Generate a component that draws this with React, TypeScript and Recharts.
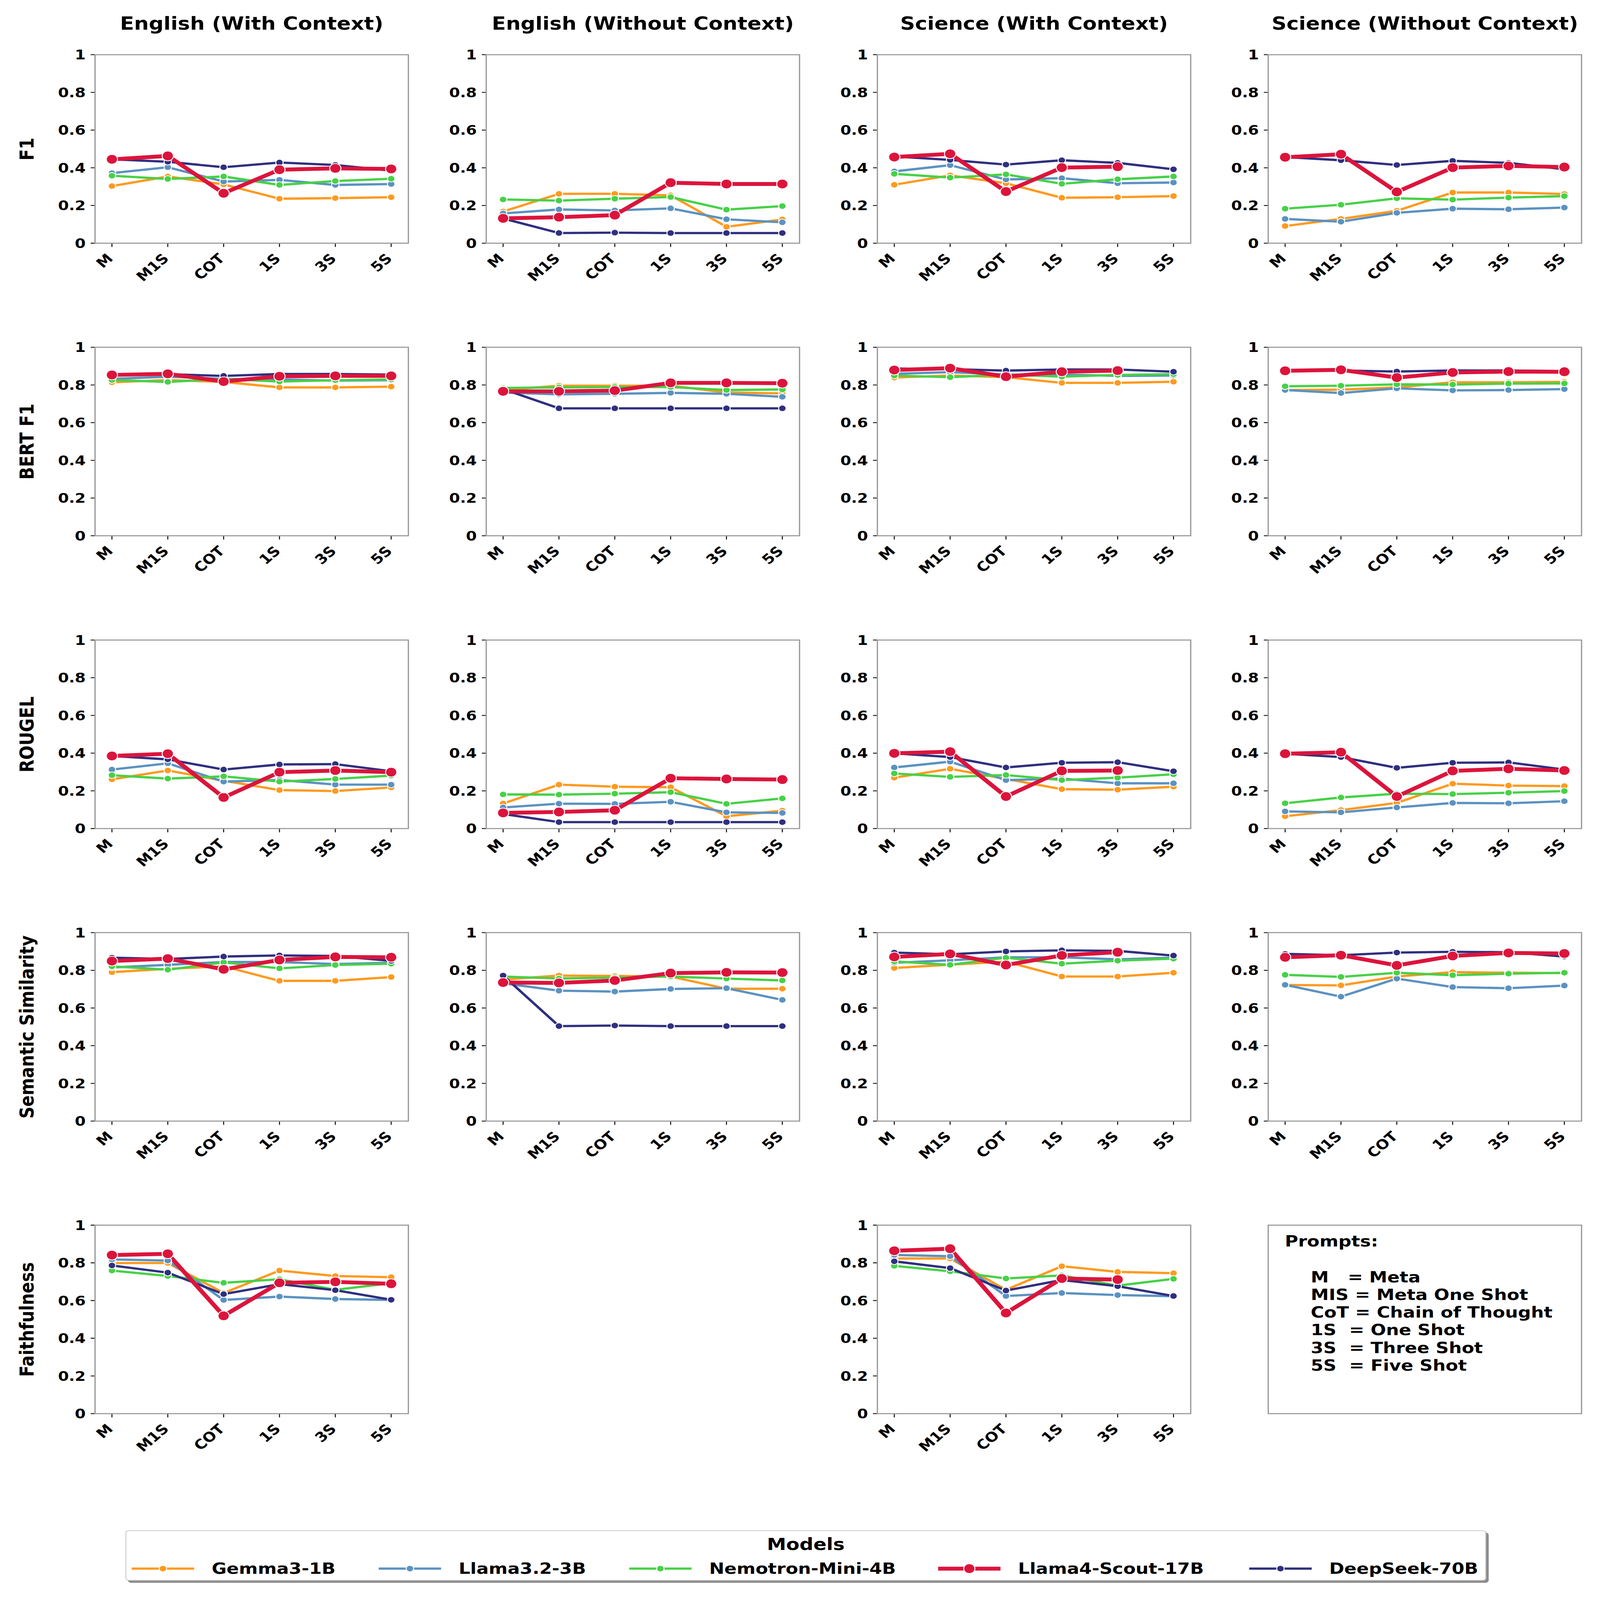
import React from 'react';
import { LineChart, Line, XAxis, YAxis } from 'recharts';

const prompts = ['M', 'M1S', 'COT', '1S', '3S', '5S'];
const models = ['Gemma3-1B', 'Llama3.2-3B', 'Nemotron-Mini-4B', 'Llama4-Scout-17B', 'DeepSeek-70B'];
const datasets = ['English (With Context)', 'English (Without Context)', 'Science (With Context)', 'Science (Without Context)'];
const metrics = ['F1', 'BERT F1', 'ROUGEL', 'Semantic Similarity', 'Faithfulness'];
const yTicks = [0, 0.2, 0.4, 0.6, 0.8, 1];
const promptNotes = ['M   = Meta', 'MIS = Meta One Shot', 'CoT = Chain of Thought', '1S  = One Shot', '3S  = Three Shot', '5S  = Five Shot'];

// each panel: one row per model, in the order of `models`
const f1EngCtx = [
  [0.303, 0.354, 0.312, 0.236, 0.239, 0.244],
  [0.372, 0.403, 0.327, 0.336, 0.309, 0.314],
  [0.358, 0.341, 0.354, 0.309, 0.330, 0.342],
  [0.445, 0.463, 0.265, 0.390, 0.397, 0.394],
  [0.445, 0.432, 0.403, 0.428, 0.415, 0.385],
];
const f1EngNoCtx = [
  [0.168, 0.262, 0.262, 0.254, 0.087, 0.126],
  [0.158, 0.179, 0.174, 0.185, 0.127, 0.111],
  [0.232, 0.226, 0.236, 0.245, 0.178, 0.197],
  [0.132, 0.138, 0.149, 0.321, 0.314, 0.314],
  [0.131, 0.054, 0.056, 0.054, 0.054, 0.054],
];
const f1SciCtx = [
  [0.310, 0.360, 0.318, 0.241, 0.244, 0.250],
  [0.381, 0.414, 0.338, 0.345, 0.318, 0.322],
  [0.368, 0.348, 0.365, 0.315, 0.339, 0.354],
  [0.457, 0.474, 0.274, 0.401, 0.406, null],
  [0.460, 0.442, 0.417, 0.440, 0.426, 0.392],
];
const f1SciNoCtx = [
  [0.091, 0.129, 0.172, 0.269, 0.269, 0.261],
  [0.129, 0.114, 0.161, 0.183, 0.180, 0.189],
  [0.183, 0.204, 0.238, 0.231, 0.242, 0.250],
  [0.456, 0.472, 0.272, 0.401, 0.410, 0.404],
  [0.457, 0.440, 0.415, 0.437, 0.426, 0.392],
];
const bertEngCtx = [
  [0.814, 0.826, 0.816, 0.787, 0.787, 0.791],
  [0.832, 0.844, 0.832, 0.829, 0.823, 0.825],
  [0.826, 0.816, 0.832, 0.818, 0.825, 0.829],
  [0.853, 0.859, 0.818, 0.846, 0.848, 0.848],
  [0.855, 0.857, 0.848, 0.858, 0.858, 0.855],
];
const bertEngNoCtx = [
  [0.773, 0.796, 0.796, 0.796, 0.760, 0.755],
  [0.760, 0.750, 0.753, 0.758, 0.753, 0.737],
  [0.784, 0.787, 0.789, 0.789, 0.773, 0.776],
  [0.766, 0.766, 0.770, 0.811, 0.811, 0.809],
  [0.778, 0.676, 0.676, 0.676, 0.676, 0.676],
];
const bertSciCtx = [
  [0.839, 0.850, 0.841, 0.811, 0.811, 0.817],
  [0.859, 0.868, 0.855, 0.855, 0.848, 0.850],
  [0.850, 0.841, 0.855, 0.844, 0.853, 0.857],
  [0.879, 0.889, 0.844, 0.870, 0.876, null],
  [0.887, 0.884, 0.876, 0.882, 0.882, 0.870],
];
const bertSciNoCtx = [
  [0.773, 0.775, 0.787, 0.814, 0.814, 0.816],
  [0.773, 0.757, 0.782, 0.771, 0.773, 0.778],
  [0.793, 0.796, 0.803, 0.802, 0.807, 0.808],
  [0.875, 0.880, 0.839, 0.866, 0.871, 0.870],
  [0.875, 0.877, 0.871, 0.877, 0.877, 0.873],
];
const rougeEngCtx = [
  [0.261, 0.308, 0.254, 0.204, 0.199, 0.218],
  [0.313, 0.346, 0.249, 0.258, 0.233, 0.233],
  [0.283, 0.265, 0.277, 0.249, 0.263, 0.281],
  [0.385, 0.397, 0.165, 0.299, 0.308, 0.299],
  [0.385, 0.367, 0.313, 0.340, 0.342, 0.304],
];
const rougeEngNoCtx = [
  [0.133, 0.233, 0.222, 0.219, 0.065, 0.095],
  [0.112, 0.132, 0.131, 0.142, 0.086, 0.083],
  [0.181, 0.180, 0.185, 0.193, 0.131, 0.160],
  [0.083, 0.088, 0.097, 0.267, 0.263, 0.260],
  [0.077, 0.034, 0.034, 0.034, 0.034, 0.034],
];
const rougeSciCtx = [
  [0.270, 0.317, 0.263, 0.209, 0.206, 0.222],
  [0.324, 0.355, 0.257, 0.265, 0.240, 0.240],
  [0.292, 0.274, 0.284, 0.257, 0.270, 0.288],
  [0.399, 0.408, 0.170, 0.306, 0.308, null],
  [0.399, 0.379, 0.324, 0.349, 0.352, 0.304],
];
const rougeSciNoCtx = [
  [0.065, 0.098, 0.136, 0.238, 0.228, 0.225],
  [0.091, 0.086, 0.112, 0.136, 0.134, 0.145],
  [0.134, 0.165, 0.185, 0.183, 0.190, 0.199],
  [0.397, 0.405, 0.170, 0.306, 0.317, 0.308],
  [0.397, 0.379, 0.322, 0.349, 0.351, 0.313],
];
const semEngCtx = [
  [0.790, 0.808, 0.821, 0.744, 0.744, 0.764],
  [0.815, 0.829, 0.844, 0.844, 0.833, 0.840],
  [0.821, 0.803, 0.842, 0.810, 0.828, 0.835],
  [0.849, 0.862, 0.805, 0.855, 0.871, 0.869],
  [0.867, 0.860, 0.873, 0.879, 0.876, 0.850],
];
const semEngNoCtx = [
  [0.751, 0.772, 0.770, 0.767, 0.702, 0.702],
  [0.731, 0.692, 0.687, 0.701, 0.705, 0.643],
  [0.767, 0.756, 0.762, 0.767, 0.756, 0.746],
  [0.735, 0.733, 0.746, 0.785, 0.789, 0.788],
  [0.772, 0.504, 0.507, 0.504, 0.504, 0.504],
];
const semSciCtx = [
  [0.812, 0.830, 0.846, 0.767, 0.767, 0.787],
  [0.840, 0.853, 0.869, 0.869, 0.858, 0.867],
  [0.847, 0.829, 0.867, 0.835, 0.851, 0.862],
  [0.871, 0.887, 0.828, 0.879, 0.896, null],
  [0.894, 0.885, 0.900, 0.906, 0.903, 0.878],
];
const semSciNoCtx = [
  [0.722, 0.720, 0.767, 0.790, 0.787, 0.785],
  [0.723, 0.660, 0.756, 0.711, 0.705, 0.719],
  [0.776, 0.765, 0.787, 0.774, 0.782, 0.787],
  [0.869, 0.880, 0.826, 0.876, 0.892, 0.889],
  [0.887, 0.880, 0.894, 0.898, 0.896, 0.873],
];
const faithEngCtx = [
  [0.799, 0.799, 0.640, 0.759, 0.730, 0.724],
  [0.818, 0.812, 0.603, 0.621, 0.608, 0.603],
  [0.759, 0.730, 0.694, 0.713, 0.657, 0.692],
  [0.841, 0.848, 0.519, 0.694, 0.699, 0.689],
  [0.786, 0.748, 0.634, 0.687, 0.655, 0.604],
];
const faithSciCtx = [
  [0.823, 0.823, 0.657, 0.782, 0.752, 0.745],
  [0.842, 0.835, 0.624, 0.640, 0.629, 0.623],
  [0.784, 0.755, 0.717, 0.733, 0.679, 0.715],
  [0.864, 0.875, 0.534, 0.717, 0.711, null],
  [0.808, 0.772, 0.653, 0.709, 0.676, 0.624],
];

// rows = metrics, columns = datasets
const grid = [
  [f1EngCtx, f1EngNoCtx, f1SciCtx, f1SciNoCtx],
  [bertEngCtx, bertEngNoCtx, bertSciCtx, bertSciNoCtx],
  [rougeEngCtx, rougeEngNoCtx, rougeSciCtx, rougeSciNoCtx],
  [semEngCtx, semEngNoCtx, semSciCtx, semSciNoCtx],
  [faithEngCtx, null, faithSciCtx, null],
];

// styling
const FONT = 'DejaVu Sans';
const modelColors = ['#ff9a1f', '#5b92c1', '#47d147', '#dc143c', '#2f2f7f'];
const drawOrder = [0, 1, 2, 4, 3];
const lineW = (m: number) => (m === 3 ? 14.5 : 8.5);
const dotR = (m: number) => (m === 3 ? 18 : 12);

const FIG_W = 5117;
const FIG_H = 5967;
const colLeft = [304, 1555, 2806, 4056];
const rowTop = [204, 1295, 2387, 3478, 4569];
const plotW = 1002;
const plotH = 703;
const padL = 300;
const padT = 40;
const padR = 30;
const padB = 260;

const XTick = (props: any) => {
  const { x, y, payload } = props;
  return (
    <text
      transform={`translate(${x + 6},${y + 46}) rotate(-45)`}
      textAnchor="end"
      fontSize={50}
      fontWeight="bold"
      fontFamily={FONT}
      fill="#000"
    >
      {payload.value}
    </text>
  );
};

const fmtY = (v: number) => (v === 0 ? '0' : v === 1 ? '1' : String(v));

const Panel = ({ values, left, top }: { values: (number | null)[][]; left: number; top: number }) => {
  const data = prompts.map((p, i) => {
    const row: Record<string, any> = { prompt: p };
    values.forEach((series, m) => {
      row['m' + m] = series[i];
    });
    return row;
  });
  return (
    <div style={{ position: 'absolute', left: left - padL, top: top - padT }}>
      <LineChart
        width={plotW + padL + padR}
        height={plotH + padT + padB}
        data={data}
        margin={{ top: padT, right: padR, left: 0, bottom: 0 }}
      >
        <XAxis
          dataKey="prompt"
          height={padB}
          padding={{ left: 54, right: 55 }}
          interval={0}
          axisLine={false}
          tickLine={{ stroke: '#000', strokeWidth: 3 }}
          tickSize={14}
          tickMargin={0}
          tick={<XTick />}
        />
        <YAxis
          width={padL}
          type="number"
          domain={[0, 1]}
          ticks={yTicks}
          interval={0}
          axisLine={false}
          tickLine={{ stroke: '#000', strokeWidth: 3 }}
          tickSize={14}
          tickMargin={16}
          tickFormatter={fmtY}
          tick={{ fontSize: 50, fontWeight: 'bold', fill: '#000', fontFamily: FONT }}
        />
        {drawOrder.map((m) => (
          <Line
            key={m}
            type="linear"
            dataKey={'m' + m}
            name={models[m]}
            stroke={modelColors[m]}
            strokeWidth={lineW(m)}
            dot={{ r: dotR(m), fill: modelColors[m], stroke: '#fff', strokeWidth: 3 }}
            activeDot={false}
            connectNulls={false}
            isAnimationActive={false}
          />
        ))}
      </LineChart>
      <div
        style={{
          position: 'absolute',
          left: padL - 2,
          top: padT - 2,
          width: plotW + 4,
          height: plotH + 4,
          border: '4px solid #999',
          boxSizing: 'border-box',
          pointerEvents: 'none',
        }}
      />
    </div>
  );
};

const LegendIcon = ({ m }: { m: number }) => (
  <svg width={200} height={50} style={{ display: 'block' }}>
    <line x1={0} y1={25} x2={200} y2={25} stroke={modelColors[m]} strokeWidth={lineW(m)} />
    <circle cx={100} cy={25} r={dotR(m)} fill={modelColors[m]} stroke="#fff" strokeWidth={3} />
  </svg>
);

const legendIconX = [421, 1211, 2012, 3000, 3995];

export default function App() {
  // the figure is laid out at its native 5117x5967 size and scaled to fill the window
  const vw = typeof window !== 'undefined' ? window.innerWidth : FIG_W;
  const vh = typeof window !== 'undefined' ? window.innerHeight : FIG_H;
  const sx = Math.min(1, vw / FIG_W);
  const sy = Math.min(1, vh / FIG_H);
  return (
    <div style={{ position: 'relative', margin: -8, width: FIG_W * sx, height: FIG_H * sy, overflow: 'hidden' }}>
      <div
        style={{
          position: 'absolute',
          left: 0,
          top: 0,
          width: FIG_W,
          height: FIG_H,
          transform: `scale(${sx}, ${sy})`,
          transformOrigin: '0 0',
          background: '#fff',
          fontFamily: FONT,
          color: '#000',
        }}
      >
        {datasets.map((d, c) => (
          <div
            key={d}
            style={{
              position: 'absolute',
              left: colLeft[c] - 200,
              width: plotW + 400,
              top: 49,
              height: 80,
              lineHeight: '80px',
              textAlign: 'center',
              fontSize: 66,
              fontWeight: 'bold',
              whiteSpace: 'nowrap',
            }}
          >
            {d}
          </div>
        ))}

        {metrics.map((mt, r) => (
          <div
            key={mt}
            style={{
              position: 'absolute',
              left: 86 - 500,
              top: rowTop[r] + plotH / 2 - 40,
              width: 1000,
              height: 80,
              lineHeight: '80px',
              textAlign: 'center',
              fontSize: 62,
              fontWeight: 'bold',
              transform: 'rotate(-90deg)',
              whiteSpace: 'nowrap',
            }}
          >
            {mt}
          </div>
        ))}

        {grid.map((row, r) =>
          row.map((values, c) =>
            values ? <Panel key={r + '-' + c} values={values} left={colLeft[c]} top={rowTop[r]} /> : null
          )
        )}

        {/* prompt abbreviations box */}
        <div
          style={{
            position: 'absolute',
            left: colLeft[3] - 2,
            top: rowTop[4] - 2,
            width: plotW + 4,
            height: plotH + 4,
            border: '4px solid #999',
            boxSizing: 'border-box',
          }}
        />
        <div
          style={{
            position: 'absolute',
            left: 4109,
            top: 4629 - 33,
            fontSize: 58,
            fontWeight: 'bold',
            lineHeight: '66px',
            whiteSpace: 'pre',
          }}
        >
          Prompts:
        </div>
        <div
          style={{
            position: 'absolute',
            left: 4192,
            top: 4762 - 33,
            fontSize: 58,
            fontWeight: 'bold',
            lineHeight: '66px',
            whiteSpace: 'pre',
          }}
        >
          {promptNotes.map((t) => (
            <div key={t}>{t}</div>
          ))}
        </div>

        {/* figure legend */}
        <div
          style={{
            position: 'absolute',
            left: 401,
            top: 5707,
            width: 4352,
            height: 188,
            border: '3px solid #cccccc',
            borderRadius: 10,
            background: '#fff',
            boxSizing: 'border-box',
            boxShadow: '8px 8px 0 rgba(0,0,0,0.45)',
          }}
        />
        <div
          style={{
            position: 'absolute',
            left: 401,
            width: 4352,
            top: 5760 - 40,
            height: 80,
            lineHeight: '80px',
            textAlign: 'center',
            fontSize: 62,
            fontWeight: 'bold',
          }}
        >
          Models
        </div>
        {models.map((name, m) => (
          <div
            key={name}
            style={{
              position: 'absolute',
              left: legendIconX[m],
              top: 5850 - 25,
              height: 50,
              display: 'flex',
              alignItems: 'center',
              gap: 56,
              fontSize: 58,
              fontWeight: 'bold',
              whiteSpace: 'nowrap',
            }}
          >
            <LegendIcon m={m} />
            <span style={{ lineHeight: '50px' }}>{name}</span>
          </div>
        ))}
      </div>
    </div>
  );
}
